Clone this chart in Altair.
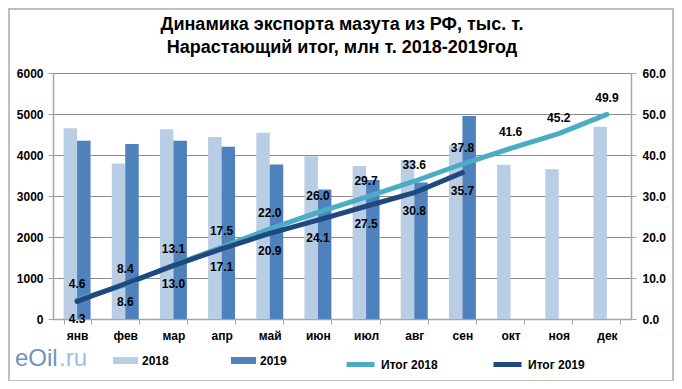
import altair as alt
import pandas as pd

months = ["янв", "фев", "мар", "апр", "май", "июн", "июл", "авг", "сен", "окт", "ноя", "дек"]
exp_2018 = [4650, 3790, 4630, 4440, 4540, 3970, 3730, 3880, 4230, 3760, 3650, 4690]
exp_2019 = [4350, 4270, 4350, 4200, 3770, 3160, 3390, 3330, 4950]
cum_2018 = [4.6, 8.4, 13.1, 17.5, 22.0, 26.0, 29.7, 33.6, 37.8, 41.6, 45.2, 49.9]
cum_2019 = [4.3, 8.6, 13.0, 17.1, 20.9, 24.1, 27.5, 30.8, 35.7]

title_lines = ["Динамика экспорта мазута из РФ, тыс. т.", "Нарастающий итог, млн  т. 2018-2019год"]
series_names = ["2018", "2019", "Итог  2018", "Итог  2019"]
colors = ["#B9CDE5", "#4F81BD", "#4BACC6", "#1F497D"]

b18 = pd.DataFrame({"month": months, "value": exp_2018, "year": "2018", "s": series_names[0]})
b19 = pd.DataFrame({"month": months[:len(exp_2019)], "value": exp_2019, "year": "2019", "s": series_names[1]})
l18 = pd.DataFrame({"month": months, "value": cum_2018, "s": series_names[2]})
l19 = pd.DataFrame({"month": months[:len(cum_2019)], "value": cum_2019, "s": series_names[3]})

FONT = "Liberation Sans"
W, H = 578, 246

x_enc = alt.X("month:N", sort=months,
              scale=alt.Scale(domain=months, paddingInner=0.44, paddingOuter=0.22),
              axis=alt.Axis(title=None, labelAngle=0, tickBand="extent", tickSize=5,
                            labelPadding=6, labelFontWeight="bold", labelFontSize=12,
                            labelFont=FONT, labelColor="black",
                            domainColor="#A6A6A6", tickColor="#A6A6A6", domainWidth=1.5))
xoff = alt.XOffset("year:N", scale=alt.Scale(domain=["2018", "2019"], paddingInner=0, paddingOuter=0))
y_left = alt.Y("value:Q", scale=alt.Scale(domain=[0, 6000], nice=False),
               axis=alt.Axis(title=None, values=[0, 1000, 2000, 3000, 4000, 5000, 6000],
                             format="d", grid=True, gridColor="#8C8C8C", tickSize=5, labelPadding=5,
                             labelFontWeight="bold", labelFontSize=12, labelFont=FONT,
                             labelColor="black", domainColor="#A6A6A6", tickColor="#A6A6A6",
                             domainWidth=1.5))
y_right = alt.Y("value:Q", scale=alt.Scale(domain=[0, 60], nice=False),
                axis=alt.Axis(title=None, orient="right", values=[0, 10, 20, 30, 40, 50, 60],
                              format=".1f", grid=False, tickSize=5, labelPadding=6,
                              labelFontWeight="bold", labelFontSize=12, labelFont=FONT,
                              labelColor="black", domainColor="#A6A6A6", tickColor="#A6A6A6",
                              domainWidth=1.5))

bar_sym = "M-1,-0.28H1V0.28H-1Z"
LEG_Y = 275


def legend(xpos, is_bar):
    common = dict(title=None, orient="none", legendX=xpos, legendY=LEG_Y, labelOffset=4,
                  padding=0, labelFont=FONT, labelFontSize=12, labelFontWeight="bold",
                  labelColor="black", symbolOpacity=1)
    if is_bar:
        return alt.Legend(symbolType=bar_sym, symbolSize=625, symbolStrokeWidth=0, **common)
    return alt.Legend(symbolType="stroke", symbolSize=784, symbolStrokeWidth=5, **common)


def color(i, xpos, is_bar):
    return alt.Color("s:N", scale=alt.Scale(domain=[series_names[i]], range=[colors[i]]),
                     legend=legend(xpos, is_bar))


bar18 = alt.Chart(b18).mark_bar(opacity=1).encode(x=x_enc, xOffset=xoff, y=y_left,
                                                  color=color(0, 60, True))
bar19 = alt.Chart(b19).mark_bar(opacity=1).encode(x=x_enc, xOffset=xoff, y=y_left,
                                                  color=color(1, 178, True))
bars = alt.layer(bar18, bar19).resolve_scale(color="independent")

ln18 = alt.Chart(l18).mark_line(strokeWidth=5, strokeCap="round").encode(
    x=x_enc, y=y_right, color=color(2, 291, False))
ln19 = alt.Chart(l19).mark_line(strokeWidth=5, strokeCap="round").encode(
    x=x_enc, y=y_right, color=color(3, 438, False))
txt_style = dict(font=FONT, fontSize=12, fontWeight="bold", color="black", baseline="middle")
tx18 = alt.Chart(l18).mark_text(dy=-16, **txt_style).encode(
    x=x_enc, y=y_right, text=alt.Text("value:Q", format=".1f"))
tx19 = alt.Chart(l19).mark_text(dy=18, **txt_style).encode(
    x=x_enc, y=y_right, text=alt.Text("value:Q", format=".1f"))
lines = alt.layer(ln18, ln19, tx18, tx19).resolve_scale(color="independent")

logo_df = pd.DataFrame({"t": ["eOil"]})
logo1 = alt.Chart(logo_df).mark_text(font=FONT, fontSize=24, color="#6F93BD", align="left",
                                     baseline="middle").encode(
    x=alt.value(-38), y=alt.value(286), text="t:N")
logo_df2 = pd.DataFrame({"t": [".ru"]})
logo2 = alt.Chart(logo_df2).mark_text(font=FONT, fontSize=24, color="#9DBEE4", align="left",
                                      baseline="middle").encode(
    x=alt.value(6), y=alt.value(286), text="t:N")
frame = alt.Chart(logo_df).mark_rect(fillOpacity=0, stroke="#BFBFBF", strokeWidth=2).encode(
    x=alt.value(-44), x2=alt.value(620), y=alt.value(-64), y2=alt.value(308))

chart = alt.layer(bars, lines, logo1, logo2, frame).resolve_scale(
    y="independent", color="independent"
).properties(
    width=W, height=H,
    title=alt.TitleParams(text=title_lines, font=FONT, fontSize=18, fontWeight="bold",
                          color="black", anchor="middle", lineHeight=23, offset=0, dy=49),
    autosize=alt.AutoSizeParams(type="none"),
    padding={"left": 45, "top": 65, "right": 43, "bottom": 62},
).configure_view(stroke=None).configure(background="white")

chart.save("out.html", embed_options={"renderer": "svg", "actions": False})
